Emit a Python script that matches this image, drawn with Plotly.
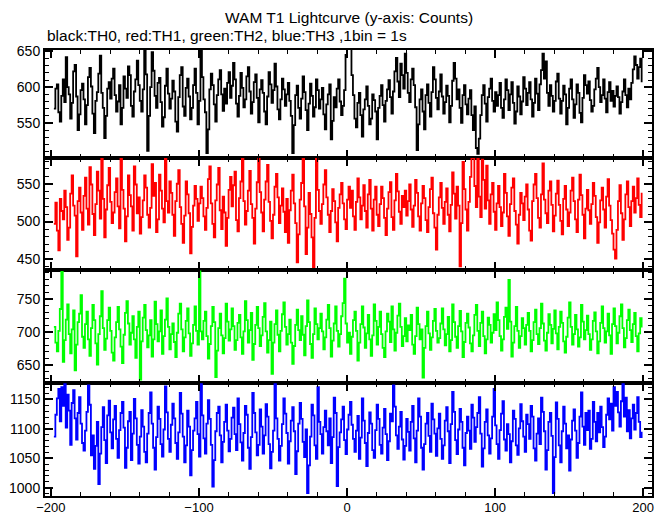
import plotly.graph_objects as go

# Time bins (s), 1 bin = 1 s
T_START = -198

th0 = [570,598,604,565,552,588,611,579,642,600,590,556,578,622,631,587,540,562,596,605,
583,548,575,614,627,601,563,536,581,593,619,644,592,571,529,560,598,607,584,612,
626,589,566,580,603,548,571,615,598,585,629,617,574,559,594,611,637,603,581,566,
597,652,618,511,560,600,649,623,588,571,606,613,579,545,558,602,626,591,570,584,
609,594,552,538,586,617,628,573,560,599,612,587,555,571,603,626,592,548,581,656,
614,583,565,508,541,597,619,603,576,552,589,611,624,590,567,598,577,606,621,585,
602,634,611,577,559,588,620,599,572,583,615,628,594,563,579,607,618,585,551,597,
610,592,566,548,587,621,604,578,596,633,601,569,555,583,612,597,574,590,606,581,
560,508,547,589,602,571,556,584,615,593,568,540,577,605,588,559,572,611,596,570,
583,599,562,541,576,590,604,527,553,586,572,598,611,580,561,574,596,645,662,658,
654,617,589,556,544,578,592,561,531,569,583,601,574,548,556,590,582,566,527,571,
588,603,575,552,581,597,610,586,563,594,622,641,608,586,633,617,598,647,620,592,
579,611,626,603,572,512,548,583,597,566,541,589,604,578,559,593,628,611,585,569,
594,618,587,563,579,602,588,551,574,609,634,612,583,597,571,550,589,603,576,562,
584,596,561,540,573,515,507,528,561,589,603,577,552,586,598,612,581,566,593,574,
589,606,571,557,583,611,596,568,590,607,578,549,566,601,587,562,580,614,598,575,
592,607,583,559,578,612,591,568,604,624,647,612,636,592,574,603,588,566,581,608,
619,584,563,581,602,590,548,571,598,611,583,557,576,604,592,564,551,585,617,603,
591,608,582,566,574,597,612,627,600,579,589,611,584,565,593,607,581,595,573,588,
601,586,563,579,594,611,589,572,598,583,606,625,643,631,612,628,640,607]

th1 = [497,525,488,462,530,514,503,541,519,476,492,537,561,521,508,454,527,545,512,489,
534,558,517,496,572,549,510,482,523,566,541,504,588,530,479,516,548,571,526,498,
512,539,557,520,491,583,542,517,474,507,561,535,520,488,573,549,511,532,484,506,
528,561,545,509,492,518,576,534,551,486,503,562,541,517,499,586,527,512,553,538,
509,481,527,550,568,519,497,472,508,553,536,511,458,493,521,547,530,501,524,546,
531,507,489,518,556,573,524,497,479,528,549,571,515,490,533,512,468,505,542,559,
520,548,566,502,487,531,553,584,527,496,514,541,567,523,505,471,517,552,588,539,
512,487,529,553,575,526,501,478,509,546,563,532,498,521,544,513,486,530,472,515,
541,562,524,498,446,483,529,551,586,520,457,492,538,510,479,438,505,587,542,514,
497,523,549,568,532,509,486,514,543,527,499,474,518,536,551,524,503,490,529,546,
518,541,507,489,526,557,532,503,521,548,514,492,536,555,517,488,529,546,509,494,
523,546,531,505,482,517,539,552,506,489,528,563,540,513,497,534,519,541,508,527,
549,516,493,521,555,538,507,488,524,547,531,502,486,519,543,558,511,492,463,509,
532,551,518,497,526,544,509,487,522,565,537,504,546,521,441,498,579,543,516,488,
526,559,584,592,547,519,589,533,506,582,555,517,574,528,497,536,551,513,489,524,
547,519,494,512,563,538,507,481,523,545,557,514,496,471,509,538,524,502,533,549,
516,488,475,527,549,563,531,505,492,536,577,529,511,498,541,553,522,487,508,537,
554,522,501,483,530,547,516,494,512,541,558,527,503,486,529,562,535,509,478,517,
542,515,497,523,551,534,506,472,499,528,545,516,492,533,556,521,502,484,463,451,
489,527,548,511,476,503,536,553,519,494,527,546,512,531,557,522,506,538]

th2 = [708,684,671,702,735,791,655,688,719,742,697,668,704,733,642,681,715,728,756,693,
676,712,731,689,664,706,741,718,683,651,697,724,762,706,673,690,718,737,702,669,
657,692,715,738,704,678,653,696,729,747,713,681,699,724,689,661,708,731,628,686,
722,741,703,677,695,718,663,689,746,712,686,701,733,667,694,719,751,708,674,697,
713,685,662,699,728,743,704,671,692,717,736,698,664,683,711,739,702,681,792,701,
689,717,731,694,660,682,709,738,715,632,672,706,728,695,668,691,743,716,687,704,
736,709,673,688,714,726,692,667,701,747,718,684,703,729,658,682,711,738,706,679,
695,723,744,701,669,688,716,637,684,712,733,696,671,702,727,745,708,681,697,719,
684,652,679,711,734,703,688,724,696,665,709,748,715,682,661,697,736,712,689,706,
728,701,674,692,719,741,706,663,687,713,739,702,678,697,724,744,781,713,684,699,
667,693,718,731,702,657,684,712,739,707,676,698,726,689,664,695,742,717,681,708,
731,697,676,662,701,728,716,685,739,704,672,699,725,743,708,679,694,721,686,710,
703,726,681,667,694,737,712,689,704,631,676,709,731,698,673,692,717,735,702,684,
691,713,736,704,680,697,723,671,688,742,715,693,676,709,732,701,662,685,714,728,
707,683,671,695,726,741,702,679,714,731,694,668,689,722,711,684,699,727,703,745,
718,694,672,689,723,737,705,779,716,663,684,709,738,702,676,694,721,706,681,711,
729,702,671,688,715,734,697,682,706,743,713,687,672,699,727,711,683,705,733,698,
674,708,731,714,686,669,693,722,745,708,681,697,726,704,678,692,741,716,689,703,
725,697,673,689,717,730,701,668,686,714,739,706,684,701,728,695,667,712,736,709,
683,699,724,742,706,677,691,718,734,703,685,712,729,694,671,698,721,707]

th3 = [1087,1124,1152,1168,1113,1171,1139,1176,1102,1158,1131,1073,1144,1166,1118,1082,1127,1154,1109,1076,
1063,1097,1129,1174,1141,1055,1089,1032,1071,1112,1006,1058,1103,1137,1081,1042,1123,1148,1094,1067,
1116,1139,1083,1051,1098,1127,1146,1102,1034,1068,1113,1129,1047,1092,1151,1118,1073,1041,1087,1132,
1104,1061,1043,1092,1127,1162,1109,1068,1031,1086,1138,1117,1074,1053,1099,1172,1128,1083,1061,1107,
1143,1118,1076,1049,1094,1161,1126,1087,1043,1072,1131,1104,1021,1064,1097,1118,1146,1091,1053,1176,
1123,1084,1058,1109,1149,1117,1073,1002,1047,1096,1127,1138,1089,1043,1078,1112,1141,1097,1062,1083,
1119,1136,1091,1064,1152,1108,1077,1046,1093,1139,1124,1068,1032,1086,1161,1127,1094,1055,1073,1133,
1104,1058,1089,1142,1121,1074,1033,1061,1097,1176,1118,1083,1046,1071,1108,1152,1126,1093,1041,1079,
1114,1137,1096,1023,1062,1109,1144,1117,1078,1052,1099,991,1038,1087,1141,1123,1072,1049,1171,1112,
1091,1058,1103,1131,1096,1072,1118,1042,1086,1153,1127,1003,1069,1094,1116,1138,1081,1057,1099,1124,
1146,1107,1083,1061,1097,1122,1049,1085,1152,1114,1076,1037,1093,1128,1109,1064,1051,1098,1141,1117,
1073,1058,1102,1134,1091,1047,1079,1126,1113,1174,1138,1089,1066,1104,1129,1082,1048,1071,1117,1095,
1063,1112,1139,1084,1043,1097,1152,1121,1068,1031,1074,1109,1127,1088,1061,1143,1116,1092,1054,1101,
1126,1083,1049,1072,1114,1137,1096,1042,1108,1163,1129,1081,1057,1099,1134,1112,1068,1038,1093,1121,
1097,1066,1141,1119,1078,1103,1127,1154,1092,1036,1067,1112,1133,1089,1058,1084,1121,1168,1106,1074,
1049,1098,1126,1147,1082,1063,1108,1091,1043,1079,1131,1117,1072,1056,1101,1142,1113,1087,1061,1124,
1108,1083,1139,1121,1067,1046,1092,1118,1074,1153,1129,1096,1031,1064,1112,1127,1088,991,1052,1145,
1117,1072,1043,1096,1138,1109,1067,1089,1029,1082,1114,1133,1097,1051,1076,1121,1162,1104,1073,1127,
1098,1131,1066,1083,1146,1112,1079,1127,1094,1138,1103,1069,1087,1124,1152,1116,1143,1097,1171,1139,
1163,1128,1104,1147,1176,1121,1153,1096,1132,1084,1118,1141,1099,1127,1154,1112,1086,1095]

series = [th0, th1, th2, th3]
colors = ["#000000", "#ff0000", "#00ff00", "#0000ff"]
y_ranges = [[501, 652], [436, 584], [623, 794], [986, 1178]]
x_range = [-204, 206]

# panel boundaries in pixels (from top of figure): 50,158,270,383,496 ; plot height 446
domains = [[0.7578, 1.0], [0.5067, 0.7578], [0.2534, 0.5067], [0.0, 0.2534]]

FAMILY = "Liberation Sans, Arial, Helvetica, sans-serif"
font = dict(family=FAMILY, size=14, color="#000000")
xfont = dict(family=FAMILY, size=13, color="#000000")
tfont = dict(family=FAMILY, size=15.5, color="#000000")

fig = go.Figure()
layout = dict(
    width=669, height=515,
    margin=dict(l=45, r=17, t=50, b=19, autoexpand=False),
    paper_bgcolor="white", plot_bgcolor="white",
    showlegend=False, font=font,
)

for i, (vals, col) in enumerate(zip(series, colors)):
    n = i + 1
    xa = "x" if n == 1 else f"x{n}"
    ya = "y" if n == 1 else f"y{n}"
    x = list(range(T_START, T_START + len(vals)))
    fig.add_trace(go.Scatter(x=x, y=vals, mode="lines",
                             line=dict(color=col, width=1.8, shape="hv"),
                             xaxis=xa, yaxis=ya, hoverinfo="skip"))
    xkey = "xaxis" if n == 1 else f"xaxis{n}"
    ykey = "yaxis" if n == 1 else f"yaxis{n}"
    layout[xkey] = dict(
        domain=[0, 1], anchor=ya, range=x_range,
        showline=True, linecolor="#000000", linewidth=2, mirror="allticks",
        ticks="inside", ticklen=8, tickwidth=2, tickcolor="#000000",
        tick0=0, dtick=100, showgrid=False, zeroline=False,
        showticklabels=(n == 4), ticklabelstandoff=-2,
        minor=dict(dtick=20, tick0=0, ticks="inside", ticklen=4, tickwidth=1, tickcolor="#000000"),
        tickfont=xfont,
        **({} if n == 1 else {"matches": "x"}),
    )
    layout[ykey] = dict(
        domain=domains[i], anchor=xa, range=y_ranges[i],
        showline=True, linecolor="#000000", linewidth=2, mirror="allticks",
        ticks="inside", ticklen=8, tickwidth=2, tickcolor="#000000",
        tick0=0, dtick=50, showgrid=False, zeroline=False,
        minor=dict(dtick=10, tick0=0, ticks="inside", ticklen=4, tickwidth=1, tickcolor="#000000"),
        tickfont=font,
    )

layout["annotations"] = [
    dict(text="WAM T1 Lightcurve (y-axis: Counts)", xref="paper", yref="paper",
         x=0.5, y=1.0, yshift=33, xanchor="center", yanchor="middle",
         showarrow=False, font=tfont),
    dict(text="black:TH0, red:TH1, green:TH2, blue:TH3 ,1bin = 1s", xref="paper", yref="paper",
         x=0.0, y=1.0, yshift=15, xanchor="left", yanchor="middle",
         showarrow=False, font=tfont),
]

fig.update_layout(**layout)
fig.write_html("out.html", config={"displayModeBar": False},
               post_script="document.body.style.margin='0';document.body.style.padding='0';")
